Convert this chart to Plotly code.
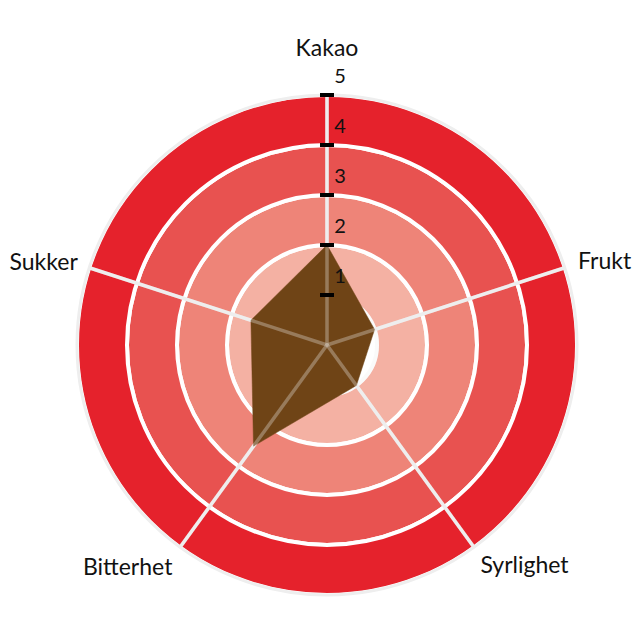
import plotly.graph_objects as go

# smaksprofil
categories = ["Kakao", "Frukt", "Syrlighet", "Bitterhet", "Sukker"]
values = [2, 1, 1, 2.5, 1.6]

# background rings (inner edge of each band, band thickness)
band_base = [1, 2, 3, 4]
band_size = [1, 1, 1, 1]
band_colors = ["#f4b1a3", "#ee8478", "#e85250", "#e5222c"]

tick_vals = [1, 2, 3, 4, 5]
tick_text = ["1", "2", "3", "4", "5"]

angles = [i * 360 / len(categories) for i in range(len(categories))]
r_max = tick_vals[-1]
r_axis_max = 5.75  # leaves room for the category names

# where the category names sit (outside the rings)
label_r = [5.66, 5.28, 5.22, 5.26, 5.24]
label_pos = ["top center", "middle right", "bottom right", "bottom left", "middle left"]

fig = go.Figure()

# coloured bands with white ring borders
fig.add_trace(go.Barpolar(
    r=band_size, base=band_base, theta=[0] * len(band_base), width=[360] * len(band_base),
    marker=dict(color=band_colors, line=dict(color="white", width=4)),
    hoverinfo="skip", showlegend=False,
))
# light grey outer edge
fig.add_trace(go.Barpolar(
    r=[r_max], base=[0], theta=[0], width=[360],
    marker=dict(color="rgba(0,0,0,0)", line=dict(color="#eeeeee", width=3)),
    hoverinfo="skip", showlegend=False,
))

# spokes (below the shape)
spoke_r, spoke_t = [], []
for a in angles:
    spoke_r += [0, r_max, None]
    spoke_t += [a, a, None]
fig.add_trace(go.Scatterpolar(
    r=spoke_r, theta=spoke_t, mode="lines",
    line=dict(color="#eeeeee", width=3.5), hoverinfo="skip", showlegend=False,
))

# the profile itself
fig.add_trace(go.Scatterpolar(
    r=values + values[:1], theta=angles + angles[:1], mode="lines",
    fill="toself", fillcolor="#6f4416", line=dict(color="#6f4416", width=0.5),
    showlegend=False,
))

# faint grid over the shape
fig.add_trace(go.Scatterpolar(
    r=spoke_r, theta=spoke_t, mode="lines",
    line=dict(color="rgba(238,238,238,0.32)", width=3.5), hoverinfo="skip", showlegend=False,
))
fig.add_trace(go.Barpolar(
    r=[tick_vals[0]], base=[0], theta=[0], width=[360],
    marker=dict(color="rgba(0,0,0,0)", line=dict(color="rgba(238,238,238,0.32)", width=4)),
    hoverinfo="skip", showlegend=False,
))

# radial ticks on the Kakao spoke
fig.add_trace(go.Scatterpolar(
    r=tick_vals, theta=[angles[0]] * len(tick_vals), mode="markers+text",
    marker=dict(symbol="line-ew", size=10, line=dict(color="black", width=4)),
    text=tick_text, textposition="top right", cliponaxis=False,
    textfont=dict(family="Lato", size=20, color="#111111"),
    hoverinfo="skip", showlegend=False,
))

# category names
fig.add_trace(go.Scatterpolar(
    r=label_r, theta=angles, mode="text",
    text=categories, textposition=label_pos, cliponaxis=False,
    textfont=dict(family="Lato", size=23, color="#111111"),
    hoverinfo="skip", showlegend=False,
))

fig.update_layout(
    width=640, height=641,
    margin=dict(l=0, r=0, t=0, b=0),
    paper_bgcolor="white",
    showlegend=False,
    polar=dict(
        domain=dict(x=[0.0492, 0.9477], y=[0.0257, 0.9228]),
        bgcolor="white",
        barmode="overlay",
        radialaxis=dict(range=[0, r_axis_max], showticklabels=False, showgrid=False,
                        showline=False, ticks=""),
        angularaxis=dict(
            rotation=90, direction="clockwise",
            tickmode="array", tickvals=angles, showticklabels=False,
            showgrid=False, showline=False, ticks="",
        ),
    ),
)

fig.write_html("out.html")
